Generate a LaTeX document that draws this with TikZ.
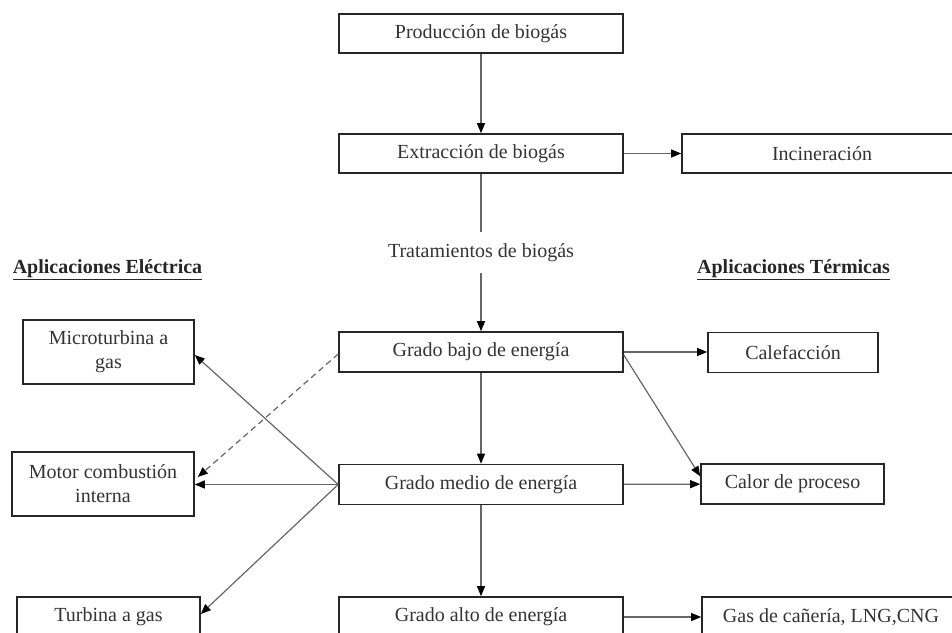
\documentclass[tikz,border=0pt]{standalone}
\usepackage{fontspec}
\setmainfont{Liberation Serif}
\usetikzlibrary{arrows.meta,positioning}
\begin{document}
\begin{tikzpicture}[x=1pt,y=-1pt,
  box/.style={draw=black!85,line width=1.6pt,rectangle,inner sep=2pt,align=center,
    font=\fontsize{20}{24}\selectfont,text=black!80},
  conn/.style={draw=black!60,line width=1.2pt},
  arr/.style={conn,-{Triangle[length=10pt,width=8pt,color=black]}},
  head/.style={font=\bfseries\fontsize{20}{24}\selectfont,text=black!85},
  lbl/.style={font=\fontsize{20}{24}\selectfont,text=black!80}]
\useasboundingbox (0,0) rectangle (952,632);
\clip (0,0) rectangle (952,632);
% central column
\node[box,minimum width=284pt,minimum height=39pt] (prod) at (481,33.5) {Producción de biogás};
\node[box,minimum width=284pt,minimum height=39pt] (extr) at (481,153.5) {Extracción de biogás};
\node[box,minimum width=280pt,minimum height=39pt] (inc) at (822,153.5) {Incineración};
\node[lbl,minimum height=41pt,inner sep=0pt] (trat) at (481,252.5) {Tratamientos de biogás};
\node[box,minimum width=284pt,minimum height=40pt] (bajo) at (481,352) {Grado bajo de energía};
\node[box,minimum width=284pt,minimum height=40pt] (medio) at (481,484.5) {Grado medio de energía};
\node[box,minimum width=284pt,minimum height=40pt] (alto) at (481,617) {Grado alto de energía};
% headings
\node[head] (hel) at (107.5,270) {\underline{Aplicaciones Eléctrica}};
\node[head] (hte) at (793.5,270) {\underline{Aplicaciones Térmicas}};
% left column
\node[box,minimum width=171pt,minimum height=64pt] (micro) at (108.5,352) {Microturbina a\\gas};
\node[box,minimum width=182pt,minimum height=64pt] (motor) at (103,484) {Motor combustión\\interna};
\node[box,minimum width=183pt,minimum height=40pt] (turb) at (108.5,617) {Turbina a gas};
% right column
\node[box,minimum width=170pt,minimum height=40pt] (cale) at (793,352.5) {Calefacción};
\node[box,minimum width=183pt,minimum height=40pt] (calor) at (792.5,484) {Calor de proceso};
\node[box,minimum width=258pt,minimum height=40pt] (gas) at (831,617) {Gas de cañería, LNG,CNG};
% connectors
\draw[arr] (prod) -- (extr);
\draw[arr] (extr) -- (inc);
\draw[conn] (extr) -- (trat);
\draw[arr] (trat) -- (bajo);
\draw[arr] (bajo.east) -- (cale.west |- bajo.east);
\draw[arr] ([yshift=-3pt]bajo.east) -- ([yshift=-13pt]calor.north west);
\draw[arr] (bajo) -- (medio);
\draw[arr] (medio) -- (calor);
\draw[arr] (medio) -- (alto);
\draw[arr] (alto) -- (gas);
\draw[arr] (medio.west) -- ([yshift=-3pt]micro.east);
\draw[arr] (medio.west) -- (motor.east |- medio.west);
\draw[arr] (medio.west) -- ([yshift=3pt]turb.east);
\draw[arr,dash pattern=on 6pt off 4pt] ([yshift=-2pt]bajo.west) -- ([shift={(3pt,7pt)}]motor.east);
\end{tikzpicture}
\end{document}
